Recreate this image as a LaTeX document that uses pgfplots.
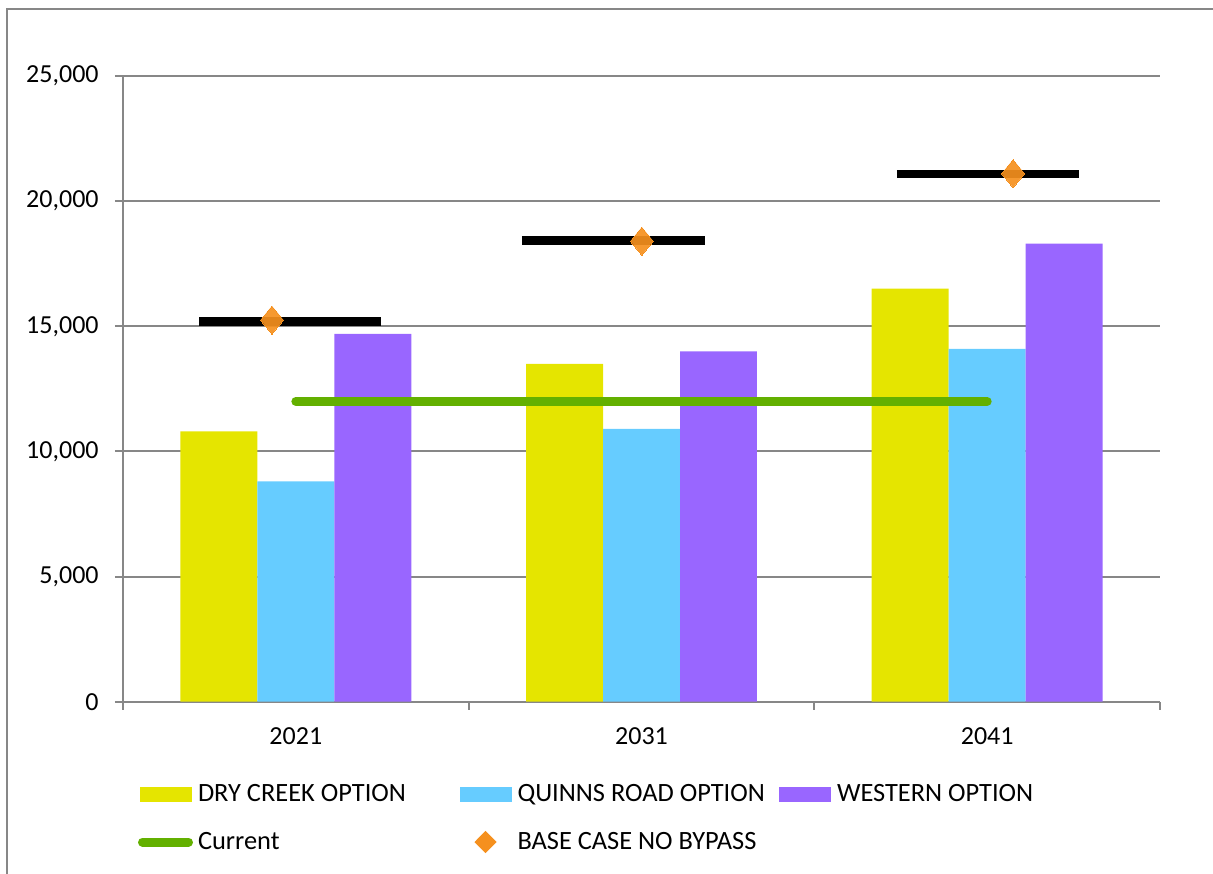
\documentclass[border=0pt]{standalone}
\usepackage{fontspec}
\setmainfont{Carlito}
\usepackage{pgfplots}
\pgfplotsset{compat=1.18}

\definecolor{dryc}{HTML}{E5E500}
\definecolor{quinns}{HTML}{66CCFF}
\definecolor{western}{HTML}{9966FF}
\definecolor{current}{HTML}{63B000}
\definecolor{basecase}{HTML}{F5901E}
\definecolor{axisgray}{HTML}{878787}

\pgfplotsset{
  barleg/.style={legend image code/.code={%
      \path[draw=none, fill=none] (0pt,-12pt) rectangle (29.5pt,12pt);
      \fill[##1] (0.5pt,-3.75pt) rectangle (26.5pt,3.75pt);}},
  lineleg/.style={legend image code/.code={%
      \path[draw=none, fill=none] (0pt,-12pt) rectangle (29.5pt,12pt);
      \draw[##1] (1.75pt,0pt) -- (24.75pt,0pt);}},
  diamleg/.style={legend image code/.code={%
      \path[draw=none, fill=none] (0pt,-12pt) rectangle (29.5pt,12pt);
      \draw[##1, mark size=5.25pt, mark options={xscale=1.33}] plot coordinates {(13.5pt,0pt)};}},
}

\begin{document}
\begin{tikzpicture}
\useasboundingbox (-61.5pt,-85.65pt) rectangle (545pt,350.85pt);
\draw[axisgray, line width=1pt] (-58pt,-90pt) -- (-58pt,346.35pt) -- (550pt,346.35pt);

\begin{axis}[
    scale only axis,
    width=518.5pt, height=312.85pt,
    xmin=-0.5, xmax=2.5,
    ymin=0, ymax=25000,
    axis x line*=bottom, axis y line*=left,
    axis line style={draw=axisgray, line width=1pt},
    ymajorgrids,
    grid style={draw=axisgray, line width=1pt},
    tick align=outside,
    major tick length=4pt,
    tick style={draw=axisgray, line width=1pt},
    xtick={0,1,2},
    xticklabels={2021,2031,2041},
    xtick style={draw=none},
    extra x ticks={-0.5,0.5,1.5,2.5},
    extra x tick labels={},
    extra x tick style={xtick style={draw=axisgray}},
    ytick={0,5000,10000,15000,20000,25000},
    scaled y ticks=false,
    /pgf/number format/.cd, fixed, 1000 sep={,}, assume math mode=true,
    /pgfplots/.cd,
    ticklabel style={font=\fontsize{13}{15}\selectfont},
    yticklabel style={inner sep=8pt},
    xticklabel style={inner sep=0pt, yshift=-9pt},
    legend columns=3,
    legend cell align=left,
    legend style={
      at={(0.01446,-0.1092)}, anchor=north west,
      draw=none, fill=none, inner sep=0pt, outer sep=0pt,
      font=\fontsize{13.2}{15}\selectfont,
      nodes={inner sep=0pt},
      /tikz/column sep=0pt, /tikz/row sep=0pt,
    },
]

\addplot[ybar, bar width=0.2227, bar shift=-0.2227, fill=dryc, draw=none, barleg]
  coordinates {(0,10800) (1,13500) (2,16500)};
\addlegendentry{\makebox[130.25pt][l]{DRY CREEK OPTION}}

\addplot[ybar, bar width=0.2227, bar shift=0, fill=quinns, draw=none, barleg]
  coordinates {(0,8800) (1,10900) (2,14100)};
\addlegendentry{\makebox[130.25pt][l]{QUINNS ROAD OPTION}}

\addplot[ybar, bar width=0.2227, bar shift=0.2227, fill=western, draw=none, barleg]
  coordinates {(0,14700) (1,14000) (2,18300)};
\addlegendentry{\makebox[130.25pt][l]{WESTERN OPTION}}

\addplot[current, line width=4.5pt, line cap=round, no marks, lineleg]
  coordinates {(0,12000) (2,12000)};
\addlegendentry{\makebox[130.25pt][l]{Current}}

% black marker bars
\addplot[black, line width=4.35pt, no marks, forget plot]
  coordinates {(-0.280,15180) (0.246,15180)};
\addplot[black, line width=4.35pt, no marks, forget plot]
  coordinates {(0.654,18420) (1.184,18420)};
\addplot[black, line width=4.35pt, no marks, forget plot]
  coordinates {(1.739,21090) (2.266,21090)};

\addplot[basecase, only marks, mark=diamond*, mark size=7pt,
  mark options={solid, fill=basecase, draw=basecase, line width=0pt, fill opacity=0.92, xscale=1.095}, diamleg]
  coordinates {(-0.069,15250) (1.001,18400) (2.075,21100)};
\addlegendentry{\makebox[130.25pt][l]{BASE CASE NO BYPASS}}

\end{axis}
\end{tikzpicture}
\end{document}
